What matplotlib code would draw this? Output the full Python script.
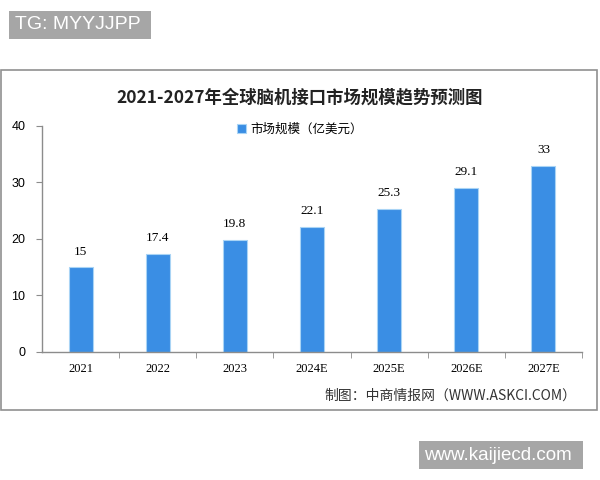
import numpy as np
import matplotlib.pyplot as plt
from matplotlib.patches import Rectangle

plt.rcParams['font.family'] = ['Noto Sans CJK SC', 'DejaVu Sans']

years = ['2021', '2022', '2023', '2024E', '2025E', '2026E', '2027E']
market_size = [15, 17.4, 19.8, 22.1, 25.3, 29.1, 33]
value_labels = ['15', '17.4', '19.8', '22.1', '25.3', '29.1', '33']
yticks = [0, 10, 20, 30, 40]

title = '2021-2027年全球脑机接口市场规模趋势预测图'
legend_label = '市场规模（亿美元）'
source = '制图：中商情报网（WWW.ASKCI.COM）'

bar_color = '#3a8ee4'
axis_color = '#8c8c8c'

fig = plt.figure(figsize=(6, 4.8), dpi=100)

# outer chart frame
fig.patches.append(Rectangle((0.002, 0.146), 0.993, 0.708, transform=fig.transFigure,
                             fill=False, edgecolor='#909090', linewidth=1.2))

ax = fig.add_axes([0.07, 0.2667, 0.9, 0.4708])
x = np.arange(len(years))
ax.bar(x, market_size, width=0.31, color=bar_color, edgecolor='#a9d4f5',
       linewidth=0.8, label=legend_label)

for xi, v, lab in zip(x, market_size, value_labels):
    ax.annotate(lab, (xi, v), xytext=(0, 7), textcoords='offset points',
                ha='center', va='bottom', fontsize=9.5, family='Liberation Serif')

ax.set_xlim(-0.5, len(years) - 0.5)
ax.set_ylim(0, 40)
ax.set_yticks(yticks)
ax.set_yticklabels([str(t) for t in yticks], fontsize=9, family='Liberation Sans')
ax.set_xticks(x)
ax.set_xticklabels(years, fontsize=9, family='Liberation Serif')
ax.tick_params(axis='x', which='major', length=0, pad=8)
ax.set_xticks(np.arange(0.5, len(years), 1.0), minor=True)
ax.tick_params(axis='x', which='minor', length=4, direction='out', color=axis_color)
ax.tick_params(axis='y', length=4, color=axis_color, pad=8)

for side in ['top', 'right']:
    ax.spines[side].set_visible(False)
for side in ['left', 'bottom']:
    ax.spines[side].set_color(axis_color)
    ax.spines[side].set_linewidth(1.0)

ax.legend(loc='upper left', bbox_to_anchor=(0.34, 1.065), frameon=False,
          fontsize=9, handlelength=0.7, handleheight=0.7, handletextpad=0.4)

fig.text(0.5, 0.797, title, ha='center', va='center', fontsize=12.5,
         fontweight='bold', color='#222222')
fig.text(0.96, 0.175, source, ha='right', va='center', fontsize=10, color='#333333')

# watermark-like labels at top-left and bottom-right
fig.text(0.025, 0.948, 'TG: MYYJJPP ', ha='left', va='center', fontsize=14,
         color='white', family='Liberation Sans',
         bbox=dict(boxstyle='square,pad=0.3', facecolor='#a6a6a6', edgecolor='none'))
fig.text(0.707, 0.052, 'www.kaijiecd.com ', ha='left', va='center', fontsize=13.5,
         color='white', family='Liberation Sans',
         bbox=dict(boxstyle='square,pad=0.3', facecolor='#a6a6a6', edgecolor='none'))

fig.savefig('out.png', dpi=100)
